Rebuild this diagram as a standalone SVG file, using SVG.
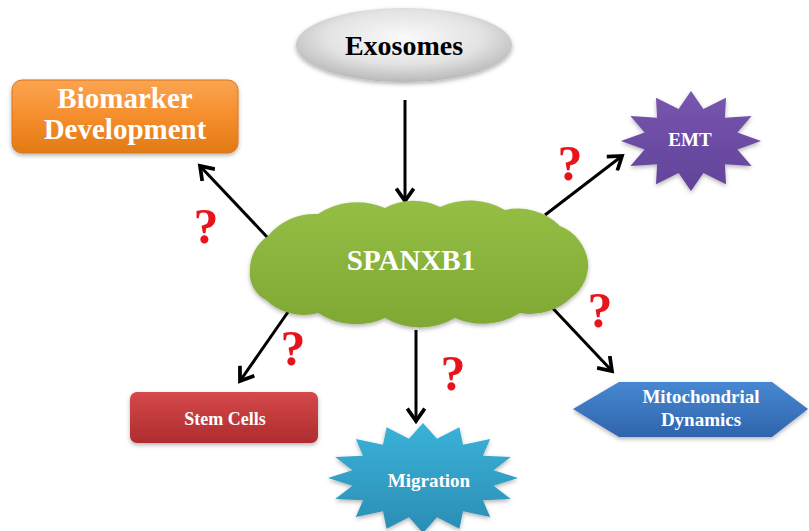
<svg xmlns="http://www.w3.org/2000/svg" width="809" height="531" viewBox="0 0 809 531">
<style>
.lbl{font-family:"Liberation Serif","Times New Roman",serif;font-weight:bold;text-anchor:middle;fill:#fff}
.q{font-family:"Liberation Serif","Times New Roman",serif;font-weight:bold;font-size:50px;fill:#E8141C;text-anchor:middle}
.conn{stroke:#000;stroke-width:3;fill:none;marker-end:url(#arr)}
</style>
<defs>
<marker id="arr" markerUnits="userSpaceOnUse" markerWidth="20" markerHeight="20" refX="13" refY="8" orient="auto" viewBox="0 0 16 16">
<path d="M3,1 L13,8 L3,15" fill="none" stroke="#000" stroke-width="3" stroke-linejoin="miter"/>
</marker>
<radialGradient id="gExo" cx="50%" cy="40%" r="60%">
<stop offset="0" stop-color="#FAFAFA"/><stop offset="0.6" stop-color="#E3E3E3"/><stop offset="1" stop-color="#B8B8B8"/>
</radialGradient>
<linearGradient id="gOr" x1="0" y1="0" x2="0" y2="1">
<stop offset="0" stop-color="#FBA451"/><stop offset="0.5" stop-color="#F58E2C"/><stop offset="1" stop-color="#E27A14"/>
</linearGradient>
<linearGradient id="gRed" x1="0" y1="0" x2="0" y2="1">
<stop offset="0" stop-color="#D5494B"/><stop offset="1" stop-color="#AE2C2E"/>
</linearGradient>
<linearGradient id="gBlue" x1="0" y1="0" x2="0" y2="1">
<stop offset="0" stop-color="#4788D2"/><stop offset="1" stop-color="#2F64AC"/>
</linearGradient>
<linearGradient id="gCyan" x1="0" y1="0" x2="0" y2="1">
<stop offset="0" stop-color="#3BB2D8"/><stop offset="1" stop-color="#2A8DB5"/>
</linearGradient>
<linearGradient id="gPur" x1="0" y1="0" x2="0" y2="1">
<stop offset="0" stop-color="#7856AE"/><stop offset="1" stop-color="#62429A"/>
</linearGradient>
<linearGradient id="gGreen" x1="0" y1="0" x2="0" y2="1">
<stop offset="0" stop-color="#95BE45"/><stop offset="1" stop-color="#7FA834"/>
</linearGradient>
<filter id="sh" x="-10%" y="-10%" width="120%" height="130%">
<feDropShadow dx="0" dy="2" stdDeviation="2" flood-color="#000" flood-opacity="0.3"/>
</filter>
</defs>

<g id="connectors">
<line class="conn" x1="405" y1="100" x2="405" y2="201"/>
<line class="conn" x1="268" y1="238" x2="200" y2="166"/>
<line class="conn" x1="545" y1="215" x2="622" y2="156"/>
<line class="conn" x1="288" y1="312" x2="240" y2="381"/>
<line class="conn" x1="416" y1="330" x2="416" y2="421"/>
<line class="conn" x1="545" y1="300" x2="612" y2="371"/>
</g>

<g id="exosomes">
<ellipse cx="404" cy="45" rx="108" ry="37" fill="url(#gExo)" filter="url(#sh)"/>
<text x="404" y="55" font-family="Liberation Serif, serif" font-weight="bold" font-size="28" text-anchor="middle" fill="#000">Exosomes</text>
</g>

<g id="biomarker">
<rect x="12" y="80" width="226" height="73" rx="10" fill="url(#gOr)" stroke="#D7761A" stroke-width="1" filter="url(#sh)"/>
<text class="lbl" x="125" y="108" font-size="29">Biomarker</text>
<text class="lbl" x="125" y="139" font-size="29">Development</text>
</g>

<g id="emt">
<polygon points="691,91 703.4,109.1 726,97.7 724.9,117.7 751.6,116 737.4,132.5 761,141 737.4,149.5 751.6,166 724.9,164.3 726,184.3 703.4,172.9 691,191 678.6,172.9 656,184.3 657.1,164.3 630.4,166 644.6,149.5 621,141 644.6,132.5 630.4,116 657.1,117.7 656,97.7 678.6,109.1" fill="url(#gPur)" filter="url(#sh)"/>
<text class="lbl" x="690" y="146" font-size="19" font-weight="normal">EMT</text>
</g>

<g id="spanxb1">
<path d="M250,270 A40,40 0 0 1 268,236 A60,60 0 0 1 318,214 A70,70 0 0 1 385,208 A60,60 0 0 1 440,207 A70,70 0 0 1 505,210 A60,60 0 0 1 560,226 A45,45 0 0 1 588,262 A40,40 0 0 1 572,297 A60,60 0 0 1 520,313 A70,70 0 0 1 455,318 A70,70 0 0 1 385,318 A70,70 0 0 1 318,313 A55,55 0 0 1 266,300 A30,30 0 0 1 250,270 Z" fill="url(#gGreen)" filter="url(#sh)"/>
<text class="lbl" x="411" y="270" font-size="29">SPANXB1</text>
</g>

<g id="stemcells">
<rect x="130" y="392" width="188" height="51" rx="7" fill="url(#gRed)" filter="url(#sh)"/>
<text class="lbl" x="225" y="425" font-size="18">Stem Cells</text>
</g>

<g id="migration">
<polygon points="423,423 437,438.8 459.4,427.2 463,444.7 490.2,439.1 482.9,455.8 510.8,457 493.6,470.2 518,478 493.6,485.8 510.8,499 482.9,500.2 490.2,516.9 463,511.3 459.4,528.8 437,517.2 423,533 409,517.2 386.6,528.8 383,511.3 355.8,516.9 363.1,500.2 335.2,499 352.4,485.8 328,478 352.4,470.2 335.2,457 363.1,455.8 355.8,439.1 383,444.7 386.6,427.2 409,438.8" fill="url(#gCyan)" filter="url(#sh)"/>
<text class="lbl" x="429" y="487" font-size="19">Migration</text>
</g>

<g id="mitochondrial">
<polygon points="573,409 619,382 772,382 808,409 772,437 619,437" fill="url(#gBlue)" filter="url(#sh)"/>
<text class="lbl" x="701" y="403" font-size="19">Mitochondrial</text>
<text class="lbl" x="701" y="426" font-size="19">Dynamics</text>
</g>

<g id="questions">
<text class="q" x="206" y="243">?</text>
<text class="q" x="570" y="180">?</text>
<text class="q" x="600" y="327">?</text>
<text class="q" x="293" y="365">?</text>
<text class="q" x="453" y="390">?</text>
</g>
</svg>
